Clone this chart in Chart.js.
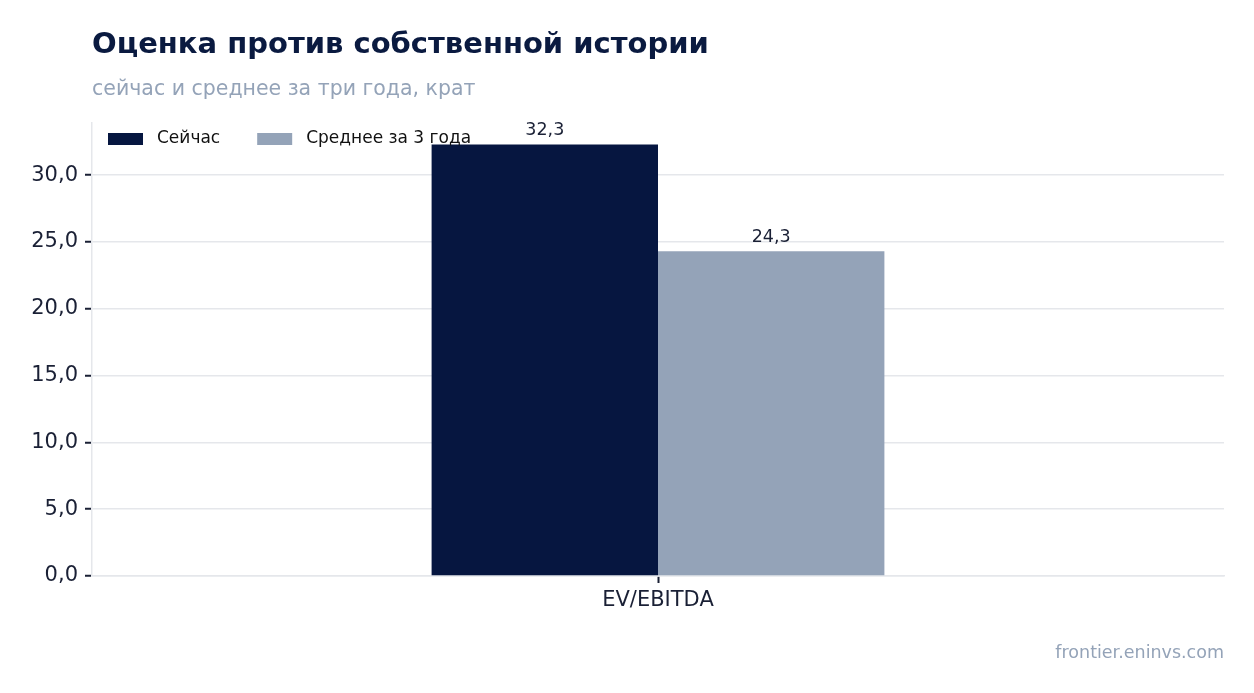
<!DOCTYPE html>
<html lang="ru">
<head>
<meta charset="utf-8">
<title>Оценка против собственной истории</title>
<script src="https://cdn.jsdelivr.net/npm/chart.js@4.4.1/dist/chart.umd.min.js"></script>
<style>
    html, body { margin: 0; padding: 0; background: #ffffff; }
    body { width: 1254px; height: 693px; position: relative; overflow: hidden; font-family: "DejaVu Sans", sans-serif; }
    #wrap { position: absolute; left: 0; top: 0; width: 1254px; height: 693px; }
    .title { position: absolute; left: 92px; top: 26px; font-size: 29px; font-weight: bold; color: #0a1a40; white-space: nowrap; }
    .subtitle { position: absolute; left: 92px; top: 76px; font-size: 20.5px; color: #94a3b8; white-space: nowrap; }
    .source { position: absolute; right: 30px; top: 642px; font-size: 17.5px; color: #94a3b8; }
</style>
</head>
<body>
<div id="wrap"><canvas id="chart"></canvas></div>
<div class="title">Оценка против собственной истории</div>
<div class="subtitle">сейчас и среднее за три года, крат</div>
<div class="source">frontier.eninvs.com</div>
<script>
// Données du graphique
const categories = ['EV/EBITDA'];
const seriesNames = ['Сейчас', 'Среднее за 3 года'];
const currentValues = [32.3];
const averageValues = [24.3];
const yTicks = [0, 5, 10, 15, 20, 25, 30];

const colors = ['#061640', '#94a3b8'];
const textColor = '#1a2035';
const gridColor = '#e5e7eb';
const fontFamily = '"DejaVu Sans", sans-serif';

const fmt = v => v.toFixed(1).replace('.', ',');

// Étiquettes de valeurs au-dessus des barres
const valueLabels = {
    id: 'valueLabels',
    afterDatasetsDraw(chart) {
        const ctx = chart.ctx;
        ctx.save();
        ctx.font = '17.5px ' + fontFamily;
        ctx.fillStyle = textColor;
        ctx.textAlign = 'center';
        ctx.textBaseline = 'middle';
        chart.data.datasets.forEach((ds, i) => {
            chart.getDatasetMeta(i).data.forEach((bar, j) => {
                ctx.fillText(fmt(ds.data[j]), bar.x, bar.y - 14);
            });
        });
        ctx.restore();
    }
};

// Légende dessinée à l'intérieur de la zone du graphique
const innerLegend = {
    id: 'innerLegend',
    afterDraw(chart) {
        const ctx = chart.ctx;
        const area = chart.chartArea;
        let x = area.left + 16;
        const y = area.top + 16;
        ctx.save();
        ctx.font = '17px ' + fontFamily;
        ctx.textBaseline = 'middle';
        chart.data.datasets.forEach(ds => {
            ctx.fillStyle = ds.backgroundColor;
            ctx.fillRect(x, y - 6, 35, 12);
            ctx.fillStyle = '#111111';
            ctx.fillText(ds.label, x + 49, y);
            x += 49 + ctx.measureText(ds.label).width + 37;
        });
        ctx.restore();
    }
};

const canvas = document.getElementById('chart');
canvas.width = 1254;
canvas.height = 693;

new Chart(canvas.getContext('2d'), {
    type: 'bar',
    data: {
        labels: categories,
        datasets: [
            { label: seriesNames[0], data: currentValues, backgroundColor: colors[0] },
            { label: seriesNames[1], data: averageValues, backgroundColor: colors[1] }
        ]
    },
    options: {
        responsive: false,
        animation: false,
        devicePixelRatio: 1,
        layout: { padding: { top: 123, right: 30, left: 0, bottom: 0 } },
        datasets: { bar: { categoryPercentage: 0.4, barPercentage: 1.0 } },
        plugins: {
            legend: { display: false },
            tooltip: { enabled: false },
            title: { display: false }
        },
        scales: {
            x: {
                offset: true,
                afterFit(scale) { scale.height = 117; },
                grid: { drawOnChartArea: false, drawTicks: true, offset: false, tickLength: 7, tickWidth: 2, tickColor: textColor },
                border: { display: true, color: gridColor, width: 1.5 },
                ticks: { color: textColor, padding: 5, font: { family: fontFamily, size: 21 } }
            },
            y: {
                min: 0,
                max: 33.9,
                afterFit(scale) { scale.width = 92; },
                afterBuildTicks(scale) {
                    scale.ticks = yTicks.map(v => ({ value: v }));
                },
                grid: { color: gridColor, lineWidth: 1.5, drawTicks: true, tickLength: 7, tickWidth: 2, tickColor: textColor },
                border: { display: true, color: gridColor, width: 1.5 },
                ticks: {
                    color: textColor,
                    padding: 7,
                    font: { family: fontFamily, size: 21 },
                    callback: v => fmt(v)
                }
            }
        }
    },
    plugins: [valueLabels, innerLegend]
});
</script>
</body>
</html>
